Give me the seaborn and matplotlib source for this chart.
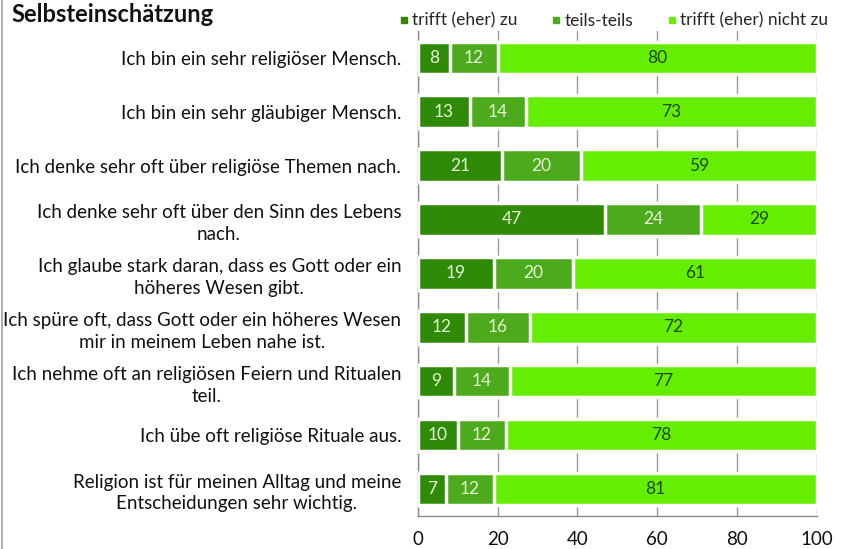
import pandas as pd
import numpy as np
import matplotlib
matplotlib.use('Agg')
import matplotlib.pyplot as plt
import seaborn as sns
from matplotlib.lines import Line2D

# Data
statements = [
    "Ich bin ein sehr religiöser Mensch.",
    "Ich bin ein sehr gläubiger Mensch.",
    "Ich denke sehr oft über religiöse Themen nach.",
    "Ich denke sehr oft über den Sinn des Lebens\nnach.",
    "Ich glaube stark daran, dass es Gott oder ein\nhöheres Wesen gibt.",
    "Ich spüre oft, dass Gott oder ein höheres Wesen\nmir in meinem Leben nahe ist.",
    "Ich nehme oft an religiösen Feiern und Ritualen\nteil.",
    "Ich übe oft religiöse Rituale aus.",
    "Religion ist für meinen Alltag und meine\nEntscheidungen sehr wichtig.",
]
trifft_zu = [8, 13, 21, 47, 19, 12, 9, 10, 7]
teils = [12, 14, 20, 24, 20, 16, 14, 12, 12]
nicht_zu = [80, 73, 59, 29, 61, 72, 77, 78, 81]
series_names = ["trifft (eher) zu", "teils-teils", "trifft (eher) nicht zu"]
colors = ["#2f8a08", "#4caa1c", "#66ee00"]

df = pd.DataFrame({"statement": statements, "zu": trifft_zu,
                   "teils": teils, "nicht": nicht_zu})
df["c1"] = df["zu"]
df["c2"] = df["zu"] + df["teils"]
df["c3"] = df["c2"] + df["nicht"]

sns.set_style("white")
plt.rcParams['font.family'] = ['Lato', 'DejaVu Sans']

fig = plt.figure(figsize=(8.51, 5.49), dpi=100)
ax = fig.add_axes([0.491, 0.06, 0.469, 0.884])

# stacked bars by drawing cumulative totals back to front
for col, c in zip(["c3", "c2", "c1"], colors[::-1]):
    sns.barplot(data=df, x=col, y="statement", color=c, width=0.6,
                edgecolor="white", linewidth=2.5, saturation=1, ax=ax, zorder=3)

# value labels
for i, row in df.iterrows():
    ax.text(row["zu"] / 2, i, str(row["zu"]), ha="center", va="center",
            fontsize=12.5, color="#e6f5d6", zorder=5)
    ax.text(row["zu"] + row["teils"] / 2, i, str(row["teils"]), ha="center",
            va="center", fontsize=12.5, color="#e6f5d6", zorder=5)
    ax.text(row["c2"] + row["nicht"] / 2, i, str(row["nicht"]), ha="center",
            va="center", fontsize=12.5, color="#1d4a05", zorder=5)

ax.set_xlim(0, 100)
ax.set_ylim(len(df) - 0.5, -0.5)
ax.set_xticks([0, 20, 40, 60, 80, 100])
ax.xaxis.grid(True, color="#9a9a9a", linewidth=1, zorder=0)
ax.set_axisbelow(True)
ax.set_xlabel("")
ax.set_ylabel("")
ax.tick_params(axis="x", labelsize=13.5, length=0, pad=11, colors="#111111")
ax.tick_params(axis="y", labelsize=13.5, length=0, pad=12, colors="#111111")
for lab in ax.get_yticklabels():
    lab.set_multialignment("center")
    lab.set_linespacing(1.35)
for side in ["top", "right"]:
    ax.spines[side].set_visible(False)
for side in ["left", "bottom"]:
    ax.spines[side].set_color("#8a8a8a")
    ax.spines[side].set_linewidth(1)

# title
fig.text(0.014, 0.974, "Selbsteinschätzung", fontsize=17, fontweight="bold",
         ha="left", va="center", color="#111111")

# legend
handles = [Line2D([0], [0], marker="s", linestyle="", markersize=5,
                  markerfacecolor=c, markeredgecolor=c) for c in colors]
fig.legend(handles, series_names, loc="center", bbox_to_anchor=(0.72, 0.962),
           ncol=3, frameon=False, fontsize=12.5, handletextpad=0.1,
           columnspacing=1.8, handlelength=0.8)

# thin line at the left edge of the figure
fig.add_artist(Line2D([0.002, 0.002], [0, 1], transform=fig.transFigure,
                      color="#a0a0a0", linewidth=1.2))

plt.savefig("out.png", dpi=100)
